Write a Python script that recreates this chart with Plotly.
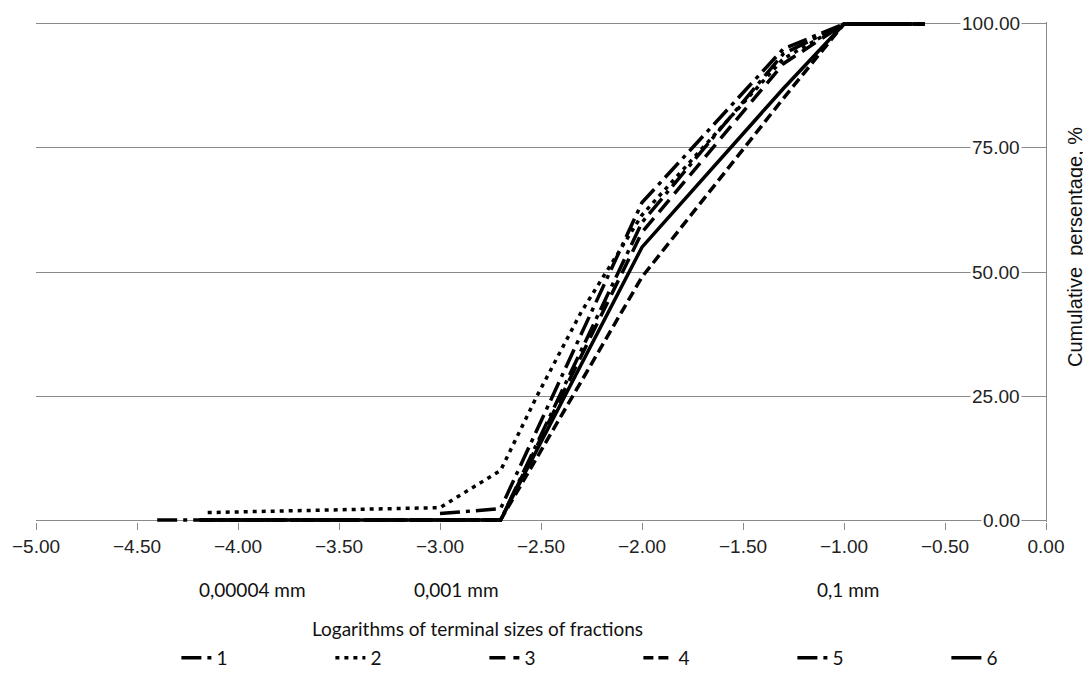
import plotly.graph_objects as go

# ---- data (log10 of terminal fraction size, mm) ----
x1 = [-4.40, -3.00, -2.70, -2.00, -1.30, -1.00, -0.60]
y1 = [0.0, 0.0, 0.0, 60.0, 94.0, 100.0, 100.0]

x2 = [-4.15, -3.00, -2.70, -2.52, -2.30, -2.00, -1.30, -1.00, -0.60]
y2 = [1.5, 2.5, 10.0, 25.0, 42.0, 61.5, 93.0, 100.0, 100.0]

x3 = [-4.19, -3.00, -2.70, -2.00, -1.30, -1.00, -0.60]
y3 = [0.0, 0.0, 0.0, 58.0, 92.0, 100.0, 100.0]

x4 = [-4.19, -3.00, -2.70, -2.00, -1.30, -1.00, -0.60]
y4 = [0.0, 0.0, 0.0, 49.0, 85.0, 100.0, 100.0]

x5 = [-3.00, -2.70, -2.00, -1.30, -1.00, -0.60]
y5 = [1.3, 2.3, 64.0, 95.0, 100.0, 100.0]

x6 = [-4.19, -3.00, -2.70, -2.00, -1.30, -1.00, -0.60]
y6 = [0.0, 0.0, 0.0, 55.0, 87.0, 100.0, 100.0]

series_names = ["1", "2", "3", "4", "5", "6"]
x_ticks = [-5.0, -4.5, -4.0, -3.5, -3.0, -2.5, -2.0, -1.5, -1.0, -0.5, 0.0]
y_ticks = [0, 25, 50, 75, 100]
size_labels = ["0,00004 mm", "0,001 mm", "0,1 mm"]
size_label_x = [-3.93, -2.92, -0.98]

xs = [x1, x2, x3, x4, x5, x6]
ys = [y1, y2, y3, y4, y5, y6]
dashes = ["20px,6px,4px,6px", "4px,5px", "16px,8px", "10px,5px",
          "20px,6px,4px,6px", "solid"]

TICK_FONT = dict(family="Liberation Sans, Arial, sans-serif", size=19, color="#222222")
TEXT_FONT = dict(family="Lato, sans-serif", size=19, color="#111111")

fig = go.Figure()
for name, xv, yv, d in zip(series_names, xs, ys, dashes):
    fig.add_trace(go.Scatter(
        x=xv, y=yv, mode="lines", name=name,
        line=dict(color="black", width=3.5, dash=d),
    ))

annotations = []
for v in y_ticks:
    annotations.append(dict(
        x=0, y=v, xref="x", yref="y", text=f"{v:.2f}", showarrow=False,
        xanchor="right", yanchor="middle", xshift=-24, font=TICK_FONT,
        bgcolor="white", borderpad=1,
    ))
for t, xv in zip(size_labels, size_label_x):
    annotations.append(dict(
        x=xv, y=-0.135, xref="x", yref="paper", text=t, showarrow=False,
        xanchor="center", yanchor="middle", font=TEXT_FONT,
    ))
annotations.append(dict(
    x=0.437, y=-0.212, xref="paper", yref="paper",
    text="Logarithms of terminal sizes of fractions", showarrow=False,
    xanchor="center", yanchor="middle", font=TEXT_FONT,
))
annotations.append(dict(
    x=1, y=0.55, xref="paper", yref="paper",
    text="Cumulative  persentage, %", showarrow=False, textangle=-90,
    xanchor="center", yanchor="middle", xshift=29,
    font=dict(family="Liberation Sans, Arial, sans-serif", size=20, color="#111111"),
))

fig.update_layout(
    width=1083, height=661,
    margin=dict(l=28, r=45, t=14, b=147, autoexpand=False),
    plot_bgcolor="white", paper_bgcolor="white",
    showlegend=True,
    legend=dict(
        orientation="h", x=0.139, y=-0.272, xanchor="left", yanchor="middle",
        entrywidth=109, entrywidthmode="pixels",
        font=TEXT_FONT, bgcolor="rgba(0,0,0,0)", traceorder="normal",
    ),
    annotations=annotations,
)
fig.update_xaxes(
    range=[-5, 0], tickvals=x_ticks, tickformat=".2f",
    ticks="outside", ticklen=7, tickcolor="#8a8a8a",
    showline=False, showgrid=False, zeroline=False,
    tickfont=TICK_FONT, automargin=False,
)
fig.update_yaxes(
    range=[-0.4, 100.4], tickvals=y_ticks, side="right",
    showticklabels=False, ticks="",
    showgrid=True, gridcolor="#8a8a8a", gridwidth=1,
    zeroline=True, zerolinecolor="#8a8a8a", zerolinewidth=1,
    showline=True, linecolor="#8a8a8a", linewidth=1, automargin=False,
)

fig.write_html("out.html")
